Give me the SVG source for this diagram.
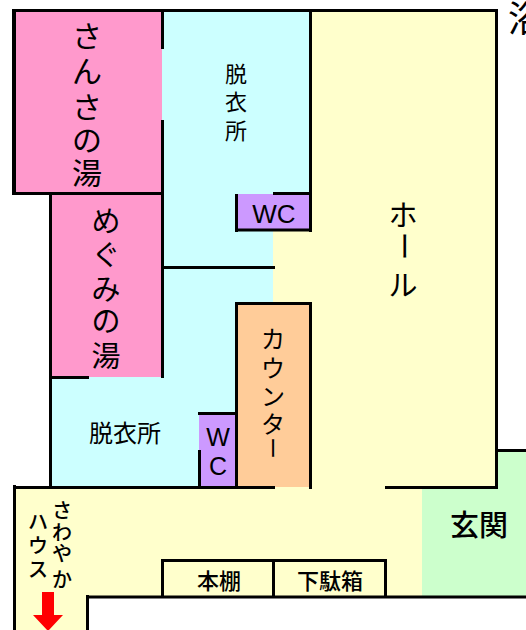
<svg xmlns="http://www.w3.org/2000/svg" width="526" height="630" viewBox="0 0 526 630">
<style>
.w{stroke:#000;stroke-width:3;fill:none}
.t{font-family:"Noto Sans CJK JP","Liberation Sans",sans-serif;font-weight:500;fill:#000;text-anchor:middle}
.b{font-weight:400}
.l{font-family:"Liberation Sans",Arial,sans-serif;fill:#000;text-anchor:middle}
.pink{fill:#ff99cc}.cyan{fill:#ccffff}.yel{fill:#ffffcc}.pur{fill:#cc99ff}.org{fill:#ffcc99}.grn{fill:#ccffcc}
</style>
<rect width="526" height="630" fill="#fff"/>
<g id="entrance"><rect class="grn" x="422" y="451" width="104" height="146"/></g>
<g id="hall"><path class="yel" d="M310 11H496V487H310Z"/><path class="yel" d="M273 190H312V490H273Z"/></g>
<g id="lobby"><path class="yel" d="M14 487H422V597H88V630H14Z"/></g>
<g id="bath1"><rect class="pink" x="14" y="11" width="148" height="182"/></g>
<g id="bath2"><rect class="pink" x="51" y="193" width="111" height="184"/></g>
<g id="dress1"><rect class="cyan" x="162" y="11" width="111" height="256"/><rect class="cyan" x="273" y="11" width="37" height="182"/></g>
<g id="dress2"><path class="cyan" d="M162 267H273V303H236V487H51V377H162Z"/></g>
<g id="wc1"><rect class="pur" x="237" y="194" width="73" height="36"/></g>
<g id="wc2"><rect class="pur" x="199" y="414" width="37" height="73"/></g>
<g id="counter"><rect class="org" x="237" y="303" width="73" height="184"/></g>
<g id="connectors">
<path class="w" d="M12 10.500H498M496.500 9V489M14 193.500H164M162.500 9V49M162.500 120V378M50.500 192V488M50 377.500H89M162 267.500H275M236.500 194V232M235 230H312M273 193.500H312M310.500 9V232M236.500 488V303.500H310.500M310.500 302V489M199.500 450V488M198 413.500H237M14.500 485V630M13 487.500H275M385 487.500H498M497 450.500H526M87.500 595V630M86 597H526M162.500 597V560.500H385.500V597M273.500 560V597"/>
<path d="M14 9V195" stroke="#000" stroke-width="4" fill="none"/>
</g>
<g id="labels">
<text class="t b" font-size="30" x="87" y="47">さ</text>
<text class="t b" font-size="30" x="87" y="82">ん</text>
<text class="t b" font-size="30" x="87" y="118">さ</text>
<text class="t b" font-size="30" x="87" y="151">の</text>
<text class="t b" font-size="30" x="87" y="184">湯</text>
<text class="t b" font-size="22" x="236" y="82">脱</text>
<text class="t b" font-size="22" x="236" y="110">衣</text>
<text class="t b" font-size="22" x="236" y="139">所</text>
<text class="l" font-size="26" x="274" y="223">WC</text>
<text class="t b" font-size="29" x="106" y="232">め</text>
<text class="t b" font-size="29" x="106" y="266">ぐ</text>
<text class="t b" font-size="29" x="106" y="300">み</text>
<text class="t b" font-size="29" x="106" y="332">の</text>
<text class="t b" font-size="29" x="106" y="367">湯</text>
<text class="t b" font-size="24" x="125" y="442">脱衣所</text>
<text class="l" font-size="25" x="218" y="446">W</text>
<text class="l" font-size="25" x="218" y="475">C</text>
<text class="t b" font-size="29" x="403" y="226">ホ</text>
<text class="t b" font-size="29" x="403" y="256" transform="rotate(90 403 246)">ー</text>
<text class="t b" font-size="29" x="403" y="296">ル</text>
<text class="t b" font-size="24" x="273" y="348">カ</text>
<text class="t b" font-size="24" x="273" y="377">ウ</text>
<text class="t b" font-size="24" x="273" y="405">ン</text>
<text class="t b" font-size="24" x="273" y="433">タ</text>
<text class="t b" font-size="22" x="273" y="456" transform="rotate(90 273 448)">ー</text>
<text class="t" font-size="20" x="62" y="518">さ</text>
<text class="t" font-size="20" x="62" y="540">わ</text>
<text class="t" font-size="20" x="62" y="561">や</text>
<text class="t" font-size="20" x="62" y="587">か</text>
<text class="t" font-size="20" x="38" y="529">ハ</text>
<text class="t" font-size="20" x="38" y="553">ウ</text>
<text class="t" font-size="20" x="38" y="577">ス</text>
<text class="t" font-size="22" x="219" y="589">本棚</text>
<text class="t" font-size="22" x="330" y="589">下駄箱</text>
<text class="t" font-size="29" x="479" y="536">玄関</text>
<text class="t b" font-size="36" x="526" y="32">浴</text>
</g>
<path id="arrow" d="M42 592H54V615H63L48 631L33 615H42Z" fill="#f00"/>
</svg>
